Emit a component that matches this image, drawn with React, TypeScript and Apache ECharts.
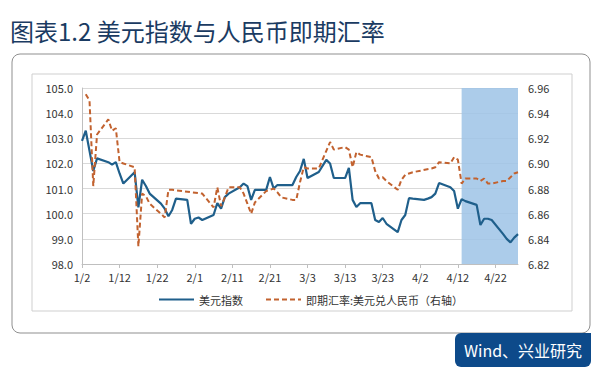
import React, { useEffect, useRef } from "react";
import * as echarts from "echarts";

// US dollar index (left axis), trading days 2017
const usdDates = [
  "1/2", "1/3", "1/4", "1/5", "1/6", "1/9", "1/10", "1/11", "1/12", "1/13",
  "1/16", "1/17", "1/18", "1/19", "1/20", "1/23", "1/24", "1/25", "1/26", "1/27",
  "1/30", "1/31", "2/1", "2/2", "2/3", "2/6", "2/7", "2/8", "2/9", "2/10",
  "2/13", "2/14", "2/15", "2/16", "2/17", "2/20", "2/21", "2/22", "2/23", "2/24",
  "2/27", "2/28", "3/1", "3/2", "3/3", "3/6", "3/7", "3/8", "3/9", "3/10",
  "3/13", "3/14", "3/15", "3/16", "3/17", "3/20", "3/21", "3/22", "3/23", "3/24",
  "3/27", "3/28", "3/29", "3/30", "3/31", "4/3", "4/4", "4/5", "4/6", "4/7",
  "4/10", "4/11", "4/12", "4/13", "4/14", "4/17", "4/18", "4/19", "4/20", "4/21",
  "4/24", "4/25", "4/26", "4/27", "4/28",
];
const usdValues = [
  102.9, 103.3, 102.5, 101.7, 102.2, 102.05, 101.95, 102.05, 101.6, 101.2,
  101.65, 100.25, 101.35, 101.1, 100.8, 100.4, 100.2, 99.9, 100.15, 100.6,
  100.55, 99.6, 99.8, 99.85, 99.75, 99.95, 100.42, 100.2, 100.66, 100.8,
  101.05, 101.2, 101.1, 100.55, 100.95, 100.95, 101.46, 101.0, 101.14, 101.14,
  101.14, 101.46, 101.7, 102.18, 101.42, 101.66, 101.9, 102.14, 102.0, 101.42,
  101.42, 101.82, 100.55, 100.27, 100.42, 100.42, 99.75, 99.67, 99.83, 99.6,
  99.27, 99.75, 99.95, 100.62, 100.6, 100.55, 100.6, 100.66, 100.8, 101.22,
  101.05, 100.9, 100.2, 100.58, 100.5, 100.35, 99.55, 99.8, 99.8, 99.75,
  99.2, 99.0, 98.86, 99.05, 99.19,
];

// USD/CNY spot (right axis)
const cnyDates = [
  "1/3", "1/4", "1/5", "1/6", "1/9", "1/10", "1/11", "1/12", "1/13", "1/16",
  "1/17", "1/18", "1/19", "1/20", "1/23", "1/24", "1/25", "1/26",
  "2/3", "2/6", "2/7", "2/8", "2/9", "2/10", "2/13", "2/14", "2/15", "2/16",
  "2/17", "2/20", "2/21", "2/22", "2/23", "2/24", "2/27", "2/28",
  "3/1", "3/2", "3/3", "3/6", "3/7", "3/8", "3/9", "3/10", "3/13", "3/14",
  "3/15", "3/16", "3/17", "3/20", "3/21", "3/22", "3/23", "3/24", "3/27", "3/28",
  "3/29", "3/30", "3/31", "4/5", "4/6", "4/7", "4/10", "4/11", "4/12", "4/13",
  "4/14", "4/17", "4/18", "4/19", "4/20", "4/21", "4/24", "4/25", "4/26", "4/27", "4/28",
];
const cnyValues = [
  6.955, 6.95, 6.882, 6.923, 6.935, 6.926, 6.928, 6.901, 6.9, 6.897,
  6.834, 6.876, 6.874, 6.868, 6.86, 6.857, 6.879, 6.879,
  6.876, 6.865, 6.881, 6.866, 6.873, 6.881, 6.881, 6.876, 6.868, 6.86,
  6.869, 6.878, 6.879, 6.88, 6.877, 6.873, 6.871, 6.871,
  6.885, 6.897, 6.896, 6.896, 6.903, 6.91, 6.917, 6.911, 6.913, 6.911,
  6.897, 6.909, 6.907, 6.905, 6.894, 6.888, 6.889, 6.886, 6.879, 6.887,
  6.891, 6.892, 6.893, 6.896, 6.897, 6.901, 6.9, 6.905, 6.903, 6.884,
  6.888, 6.888, 6.886, 6.888, 6.884, 6.884, 6.886, 6.886, 6.889, 6.892, 6.893,
];

const leftTicks = { min: 98, max: 105, interval: 1 };
const rightTicks = { min: 6.82, max: 6.96, interval: 0.02 };
const shadeRange = ["4/13", "4/28"];

const titleText = "图表1.2 美元指数与人民币即期汇率";
const sourceText = "Wind、兴业研究";
const usdName = "美元指数";
const cnyName = "即期汇率:美元兑人民币（右轴）";

function buildCategories(): string[] {
  const out: string[] = [];
  const d = new Date(2017, 0, 2);
  const end = new Date(2017, 3, 28);
  while (d <= end) {
    out.push(`${d.getMonth() + 1}/${d.getDate()}`);
    d.setDate(d.getDate() + 1);
  }
  return out;
}

function toSeries(cats: string[], dates: string[], vals: number[]) {
  const m = new Map<string, number>();
  dates.forEach((dt, i) => m.set(dt, vals[i]));
  return cats.map((c) => (m.has(c) ? m.get(c)! : null));
}

const CJK = "'Noto Sans CJK SC', 'Noto Sans', sans-serif";

export default function App() {
  const ref = useRef<HTMLDivElement>(null);
  useEffect(() => {
    if (!ref.current) return;
    const chart = echarts.init(ref.current, undefined, { renderer: "svg" });
    const cats = buildCategories();
    const blue = "#1f5f8b";
    const orange = "#c2622f";
    chart.setOption({
      animation: false,
      backgroundColor: "#ffffff",
      textStyle: { fontFamily: CJK },
      grid: { left: 82, top: 88, width: 436, height: 176, containLabel: false },
      xAxis: {
        type: "category",
        data: cats,
        boundaryGap: false,
        axisLine: { lineStyle: { color: "#bfbfbf", width: 1 } },
        axisTick: { show: true, interval: 9, length: 4, lineStyle: { color: "#bfbfbf" } },
        axisLabel: { interval: 9, color: "#333", fontSize: 11, margin: 7, fontFamily: CJK },
        splitLine: { show: false },
      },
      yAxis: [
        {
          type: "value",
          ...leftTicks,
          axisLine: { show: true, lineStyle: { color: "#bfbfbf" } },
          axisTick: { show: false },
          axisLabel: {
            color: "#333",
            fontSize: 11,
            margin: 9,
            formatter: (v: number) => v.toFixed(1),
          },
          splitLine: { show: true, lineStyle: { color: "#d9d9d9", width: 1 } },
        },
        {
          type: "value",
          position: "right",
          ...rightTicks,
          axisLine: { show: false },
          axisTick: { show: false },
          axisLabel: {
            color: "#333",
            fontSize: 11,
            margin: 10,
            formatter: (v: number) => v.toFixed(2),
          },
          splitLine: { show: false },
        },
      ],
      legend: {
        left: 153,
        top: 289,
        itemWidth: 35,
        itemHeight: 10,
        itemGap: 22,
        itemStyle: { opacity: 0 },
        textStyle: { fontSize: 11, color: "#333", fontFamily: CJK },
        data: [{ name: usdName }, { name: cnyName }],
      },
      series: [
        {
          name: usdName,
          type: "line",
          data: toSeries(cats, usdDates, usdValues),
          connectNulls: true,
          showSymbol: false,
          symbol: "none",
          lineStyle: { color: blue, width: 2.2 },
          itemStyle: { color: blue },
          z: 3,
          markArea: {
            silent: true,
            itemStyle: { color: "#9dc3e6", opacity: 0.85 },
            data: [[{ xAxis: shadeRange[0] }, { xAxis: shadeRange[1] }]],
          },
        },
        {
          name: cnyName,
          type: "line",
          yAxisIndex: 1,
          data: toSeries(cats, cnyDates, cnyValues),
          connectNulls: true,
          showSymbol: false,
          symbol: "none",
          lineStyle: { color: orange, width: 2, type: [5, 3] },
          itemStyle: { color: orange },
          z: 4,
        },
      ],
      graphic: [
        {
          type: "rect",
          z: -10,
          shape: { x: 12, y: 54, width: 578, height: 279, r: 8 },
          style: { fill: "#ffffff", stroke: "#8f8f8f", lineWidth: 1 },
        },
        {
          type: "rect",
          z: -9,
          shape: { x: 32, y: 74, width: 540, height: 237 },
          style: { fill: "#ffffff", stroke: "#cfcfcf", lineWidth: 1 },
        },
        {
          type: "rect",
          z: 10,
          shape: { x: 455, y: 333, width: 136, height: 34, r: [6, 0, 6, 6] },
          style: { fill: "#0d4a8a" },
        },
        {
          type: "text",
          z: 11,
          x: 523,
          y: 350,
          style: {
            text: sourceText,
            fill: "#ffffff",
            fontSize: 16,
            fontFamily: CJK,
            align: "center",
            verticalAlign: "middle",
          },
        },
        {
          type: "text",
          z: 11,
          x: 10,
          y: 30,
          style: {
            text: titleText,
            fill: "#1a3b62",
            fontSize: 24,
            fontFamily: CJK,
            align: "left",
            verticalAlign: "middle",
          },
        },
      ],
    });
    return () => chart.dispose();
  }, []);
  return (
    <div
      ref={ref}
      style={{ position: "absolute", left: 0, top: 0, width: 600, height: 377 }}
    />
  );
}
